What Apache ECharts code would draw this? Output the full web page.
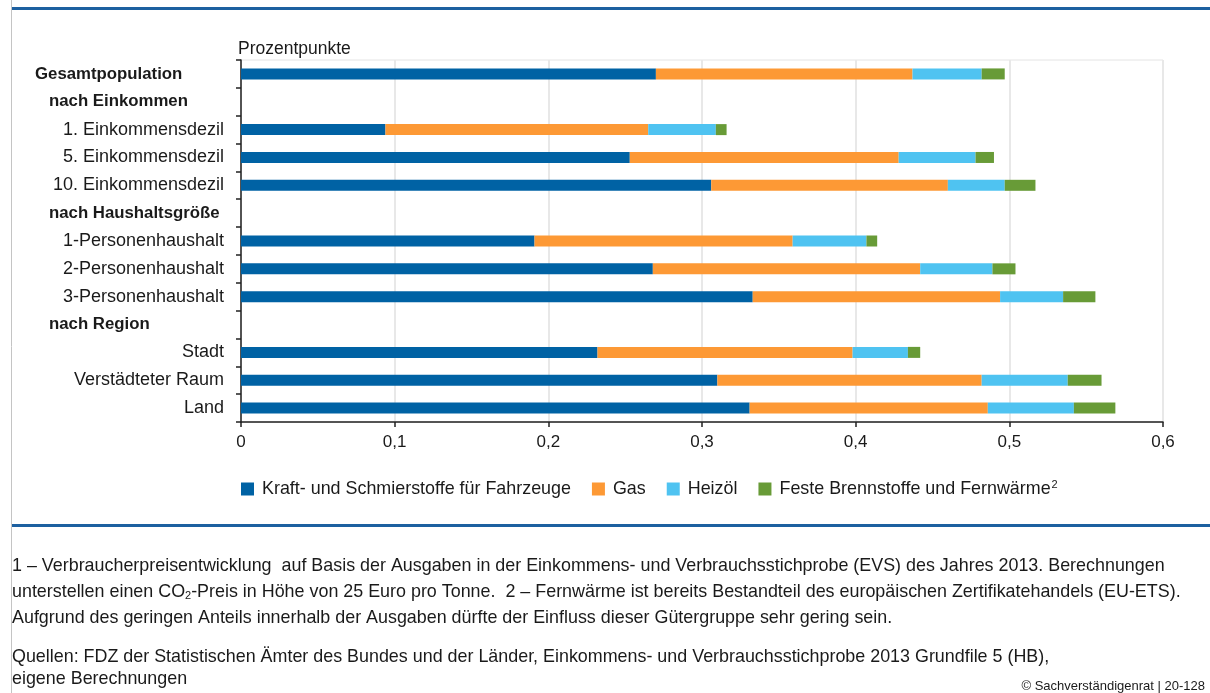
<!DOCTYPE html>
<html>
<head>
<meta charset="utf-8">
<script src="https://cdn.jsdelivr.net/npm/echarts@6/dist/echarts.min.js"></script>
<style>
  html, body { margin: 0; padding: 0; background: #fff; }
  #chart { width: 1210px; height: 693px; }
</style>
</head>
<body>
<div id="chart"></div>
<script>
// Kategorien von oben nach unten
const categories = ['Gesamtpopulation', 'nach Einkommen', '1. Einkommensdezil', '5. Einkommensdezil', '10. Einkommensdezil',
  'nach Haushaltsgröße', '1-Personenhaushalt', '2-Personenhaushalt', '3-Personenhaushalt',
  'nach Region', 'Stadt', 'Verstädteter Raum', 'Land']
const headers = ['nach Einkommen', 'nach Haushaltsgröße', 'nach Region']

const fuel = [0.270, null, 0.094, 0.253, 0.306, null, 0.191, 0.268, 0.333, null, 0.232, 0.310, 0.331]
const gas = [0.167, null, 0.171, 0.175, 0.154, null, 0.168, 0.174, 0.161, null, 0.166, 0.172, 0.155]
const oil = [0.045, null, 0.044, 0.050, 0.037, null, 0.048, 0.047, 0.041, null, 0.036, 0.056, 0.056]
const solid = [0.015, null, 0.007, 0.012, 0.020, null, 0.007, 0.015, 0.021, null, 0.008, 0.022, 0.027]

const seriesNames = ['Kraft- und Schmierstoffe für Fahrzeuge', 'Gas', 'Heizöl', 'Feste Brennstoffe und Fernwärme']
const colors = ['#0062a4', '#fd9935', '#4fc3f1', '#689b37']

const font = '"Liberation Sans", Arial, sans-serif'
const textColor = '#1a1a1a'

const chart = echarts.init(document.getElementById('chart'))

function bar(name, data, i) {
  return {
    name: name,
    type: 'bar',
    stack: 'total',
    barWidth: 11,
    data: data,
    itemStyle: { color: colors[i] },
    emphasis: { disabled: true }
  }
}

chart.setOption({
  animation: false,
  color: colors,
  textStyle: { fontFamily: font, color: textColor },
  title: {
    text: 'Prozentpunkte',
    left: 233,
    top: 35,
    textStyle: { fontSize: 17.5, fontWeight: 'normal', color: textColor, fontFamily: font }
  },
  grid: {
    left: 241,
    right: 47,
    top: 60,
    bottom: 271,
    show: true,
    borderColor: '#e4e4e4',
    borderWidth: 1
  },
  legend: {
    left: 236,
    top: 474,
    itemWidth: 13,
    itemHeight: 13,
    itemGap: 21,
    icon: 'rect',
    data: seriesNames,
    textStyle: {
      fontSize: 17.9,
      color: textColor,
      fontFamily: font,
      padding: [0, 0, 0, 3],
      rich: {
        sup: { fontSize: 11, color: textColor, padding: [0, 0, 9, 1] }
      }
    },
    formatter: function (name) {
      return name === 'Feste Brennstoffe und Fernwärme' ? name + '{sup|2}' : name
    }
  },
  xAxis: {
    type: 'value',
    min: 0,
    max: 0.6,
    interval: 0.1,
    axisLine: { show: true, lineStyle: { color: '#222', width: 1.5 } },
    axisTick: { show: true, length: 5, lineStyle: { color: '#222', width: 1.5 } },
    splitLine: { show: true, lineStyle: { color: '#e8e8e8', width: 2 } },
    axisLabel: {
      fontSize: 17,
      color: textColor,
      margin: 12,
      formatter: function (v) { return String(Math.round(v * 10) / 10).replace('.', ',') }
    }
  },
  yAxis: {
    type: 'category',
    inverse: true,
    data: categories,
    axisLine: { show: true, lineStyle: { color: '#222', width: 1.5 } },
    axisTick: { show: true, length: 5, lineStyle: { color: '#222', width: 1.5 } },
    splitLine: { show: false },
    axisLabel: {
      interval: 0,
      fontSize: 18,
      color: textColor,
      margin: 17,
      formatter: function (v) {
        if (v === 'Gesamtpopulation') return '{g|' + v + '}'
        if (headers.indexOf(v) >= 0) return '{h|' + v + '}'
        return v
      },
      rich: {
        g: { fontSize: 16.8, fontWeight: 'bold', color: textColor, width: 189, align: 'left' },
        h: { fontSize: 16.8, fontWeight: 'bold', color: textColor, width: 175, align: 'left' }
      }
    }
  },
  graphic: [
    { type: 'line', shape: { x1: 11.5, y1: 0, x2: 11.5, y2: 693 }, style: { stroke: '#c4c4c4', lineWidth: 1 } },
    { type: 'rect', shape: { x: 12, y: 7, width: 1198, height: 3 }, style: { fill: '#1d60a0' } },
    { type: 'rect', shape: { x: 12, y: 524, width: 1198, height: 3 }, style: { fill: '#1d60a0' } },
    {
      type: 'text', left: 12, top: 553,
      style: {
        text: '1 – Verbraucherpreisentwicklung  auf Basis der Ausgaben in der Einkommens- und Verbrauchsstichprobe (EVS) des Jahres 2013. Berechnungen\n' +
          'unterstellen einen CO{sub|2}-Preis in Höhe von 25 Euro pro Tonne.  2 – Fernwärme ist bereits Bestandteil des europäischen Zertifikatehandels (EU-ETS).\n' +
          'Aufgrund des geringen Anteils innerhalb der Ausgaben dürfte der Einfluss dieser Gütergruppe sehr gering sein.',
        font: '17.9px ' + font,
        fill: textColor,
        lineHeight: 26,
        rich: {
          sub: { fontSize: 11, fill: textColor, padding: [7, 0, 0, 0] }
        }
      }
    },
    {
      type: 'text', left: 12, top: 646,
      style: {
        text: 'Quellen: FDZ der Statistischen Ämter des Bundes und der Länder, Einkommens- und Verbrauchsstichprobe 2013 Grundfile 5 (HB),\neigene Berechnungen',
        font: '17.9px ' + font,
        fill: textColor,
        lineHeight: 22
      }
    },
    {
      type: 'text', right: 5, top: 680,
      style: {
        text: '© Sachverständigenrat | 20-128',
        font: '13px ' + font,
        fill: textColor
      }
    }
  ],
  series: [
    bar(seriesNames[0], fuel, 0),
    bar(seriesNames[1], gas, 1),
    bar(seriesNames[2], oil, 2),
    bar(seriesNames[3], solid, 3)
  ]
})
</script>
</body>
</html>
